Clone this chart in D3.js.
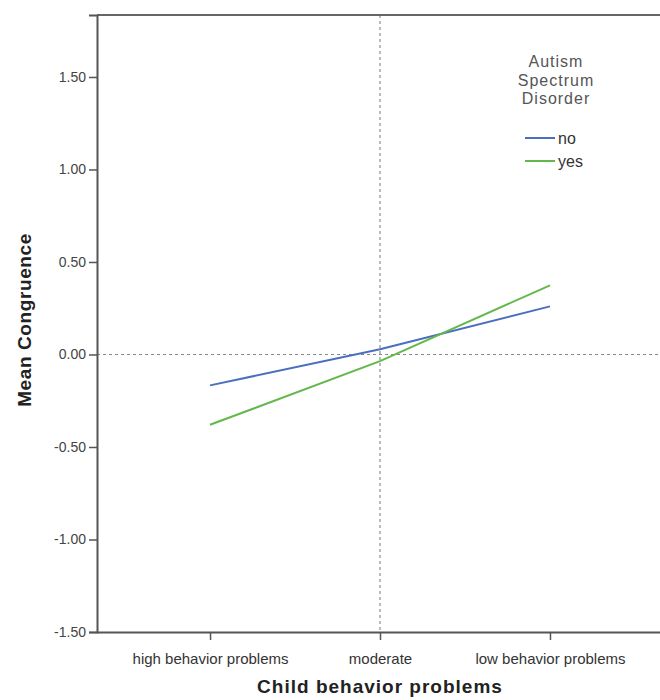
<!DOCTYPE html>
<html><head><meta charset="utf-8">
<script src="https://cdn.jsdelivr.net/npm/d3@7"></script>
<style>body{margin:0;background:#fff;}svg{display:block;}</style>
</head><body>
<script>
const categories = ["high behavior problems", "moderate", "low behavior problems"];
const seriesNames = ["no", "yes"];
const valuesNo = [-0.167, 0.028, 0.26];
const valuesYes = [-0.38, -0.036, 0.374];
const yTicks = [-1.5, -1.0, -0.5, 0.0, 0.5, 1.0, 1.5];
const legendTitle = ["Autism", "Spectrum", "Disorder"];
const colors = ["#4a6fbf", "#62b84a"];

const FONT = "Liberation Sans, Arial, sans-serif";
const W = 660, H = 700;
const L = 97, R = 663, T = 15, B = 632;
const svg = d3.select("body").append("svg").attr("width", W).attr("height", H);

const x = d3.scalePoint().domain(categories).range([L, R]).padding(0.665);
const y = d3.scaleLinear().domain([-1.5, 1.835]).range([B, T]);
const fmt = d => d3.format(".2f")(d).replace("\u2212", "-");

// reference lines
svg.append("line").attr("x1", x("moderate")).attr("x2", x("moderate")).attr("y1", T).attr("y2", B)
  .attr("stroke", "#777").attr("stroke-dasharray", "3,3").attr("stroke-width", 1);
svg.append("line").attr("x1", L).attr("x2", W).attr("y1", y(0)).attr("y2", y(0))
  .attr("stroke", "#888").attr("stroke-dasharray", "3,3").attr("stroke-width", 1);

// frame top
svg.append("line").attr("x1", L).attr("x2", W).attr("y1", T).attr("y2", T)
  .attr("stroke", "#666").attr("stroke-width", 2);

// y axis
const yAxis = d3.axisLeft(y).tickValues(yTicks).tickFormat(fmt).tickSize(8).tickPadding(3);
const gy = svg.append("g").attr("transform", `translate(${L},0)`).call(yAxis);
gy.select(".domain").attr("stroke", "#555").attr("stroke-width", 2);
gy.selectAll(".tick line").attr("stroke", "#555").attr("stroke-width", 1.5);
gy.selectAll(".tick text").attr("font-family", FONT).attr("font-size", 14).attr("fill", "#444");

// x axis
const xAxis = d3.axisBottom(x).tickSize(8).tickPadding(6);
const gx = svg.append("g").attr("transform", `translate(0,${B})`).call(xAxis);
gx.select(".domain").attr("stroke", "#555").attr("stroke-width", 2).attr("d", `M${L},0.5H${W}`);
gx.selectAll(".tick line").attr("stroke", "#555").attr("stroke-width", 1.5);
gx.selectAll(".tick text").attr("font-family", FONT).attr("font-size", 15).attr("fill", "#333")
  .attr("y", 32).attr("dy", 0);

// lines
const line = d3.line().x((d, i) => x(categories[i])).y(d => y(d));
[valuesNo, valuesYes].forEach((vals, k) => {
  svg.append("path").datum(vals).attr("d", line).attr("fill", "none")
    .attr("stroke", colors[k]).attr("stroke-width", 2);
});

// axis titles
svg.append("text").attr("x", 380).attr("y", 693).attr("text-anchor", "middle")
  .attr("font-family", FONT).attr("font-weight", "bold").attr("letter-spacing", 1)
  .attr("font-size", 19).attr("fill", "#222").text("Child behavior problems");
svg.append("text").attr("transform", `translate(31,320) rotate(-90)`).attr("text-anchor", "middle")
  .attr("font-family", FONT).attr("font-weight", "bold").attr("letter-spacing", 0.6)
  .attr("font-size", 19).attr("fill", "#222").text("Mean Congruence");

// legend
const lg = svg.append("g");
legendTitle.forEach((t, i) => {
  lg.append("text").attr("x", 556).attr("y", 67 + i * 18.5).attr("text-anchor", "middle")
    .attr("font-family", FONT).attr("font-size", 16).attr("letter-spacing", 1)
    .attr("fill", "#555").text(t);
});
seriesNames.forEach((s, i) => {
  const yy = 138 + i * 23;
  lg.append("line").attr("x1", 525).attr("x2", 555).attr("y1", yy).attr("y2", yy)
    .attr("stroke", colors[i]).attr("stroke-width", 2);
  lg.append("text").attr("x", 558).attr("y", yy + 6)
    .attr("font-family", FONT).attr("font-size", 16).attr("fill", "#333").text(s);
});
</script>
</body></html>
